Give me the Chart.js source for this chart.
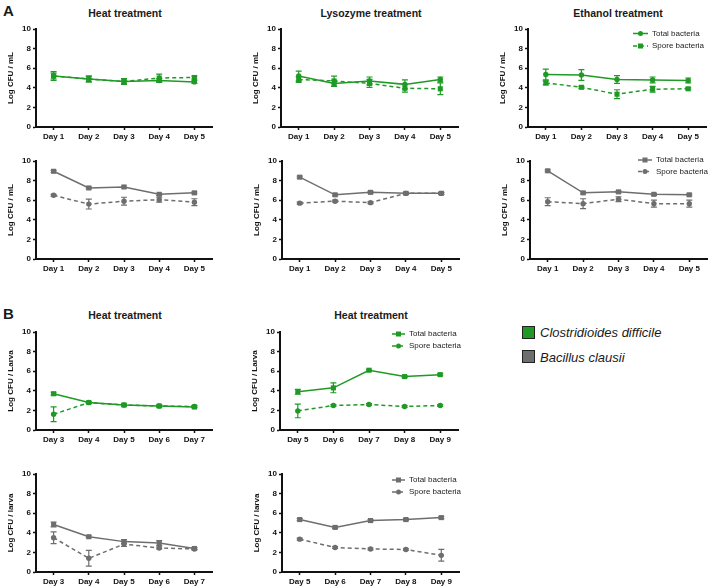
<!DOCTYPE html>
<html>
<head>
<meta charset="utf-8">
<script src="https://cdn.jsdelivr.net/npm/chart.js@4/dist/chart.umd.min.js"></script>
<style>
  body { margin: 0; width: 711px; height: 588px; position: relative; background: #fff; overflow: hidden;
         font-family: "Liberation Sans", Arial, sans-serif; color: #1a1a1a; }
  canvas { position: absolute; }
  .title { position: absolute; font-weight: bold; font-size: 10.5px; line-height: 1; white-space: nowrap;
           transform: translate(-50%, -50%); }
  .tag { position: absolute; font-weight: bold; font-size: 15px; line-height: 1; }
  .key { position: absolute; font-style: italic; font-size: 13px; line-height: 1; white-space: nowrap;
         transform: translateY(-50%); }
  .sw { position: absolute; width: 11px; height: 11px; border: 1px solid #222; }
</style>
</head>
<body>

<div class="tag" style="left:3px; top:3px;">A</div>
<div class="tag" style="left:3px; top:306px;">B</div>

<div class="title" style="left:125px; top:12.5px;">Heat treatment</div>
<div class="title" style="left:371px; top:12.5px;">Lysozyme treatment</div>
<div class="title" style="left:618px; top:12.5px;">Ethanol treatment</div>
<div class="title" style="left:125px; top:315px;">Heat treatment</div>
<div class="title" style="left:371px; top:315px;">Heat treatment</div>

<div class="sw" style="left:522px; top:326px; background:#1f9a25;"></div>
<div class="key" style="left:540px; top:332px;">Clostridioides difficile</div>
<div class="sw" style="left:522px; top:350px; background:#6e6e6e;"></div>
<div class="key" style="left:540px; top:357px;">Bacillus clausii</div>

<canvas id="a1"></canvas>
<canvas id="a2"></canvas>
<canvas id="a3"></canvas>
<canvas id="a4"></canvas>
<canvas id="a5"></canvas>
<canvas id="a6"></canvas>
<canvas id="b1"></canvas>
<canvas id="b2"></canvas>
<canvas id="b3"></canvas>
<canvas id="b4"></canvas>

<script>
// categories
const daysA = ["Day 1", "Day 2", "Day 3", "Day 4", "Day 5"];
const daysB1 = ["Day 3", "Day 4", "Day 5", "Day 6", "Day 7"];
const daysB2 = ["Day 5", "Day 6", "Day 7", "Day 8", "Day 9"];
const yTicks = [0, 2, 4, 6, 8, 10];

// A - C. difficile, Log CFU / mL
const heatTotalCd = [5.2, 4.9, 4.65, 4.75, 4.6];
const heatTotalCdErr = [0.45, 0.3, 0.25, 0.2, 0.15];
const heatSporeCd = [5.2, 4.9, 4.65, 5.0, 5.05];
const heatSporeCdErr = [0.3, 0.3, 0.3, 0.4, 0.15];

const lysoTotalCd = [5.2, 4.45, 4.7, 4.35, 4.85];
const lysoTotalCdErr = [0.5, 0.3, 0.4, 0.45, 0.25];
const lysoSporeCd = [4.85, 4.7, 4.45, 3.95, 3.9];
const lysoSporeCdErr = [0.3, 0.5, 0.4, 0.4, 0.6];

const ethTotalCd = [5.35, 5.3, 4.85, 4.8, 4.75];
const ethTotalCdErr = [0.55, 0.55, 0.4, 0.3, 0.25];
const ethSporeCd = [4.5, 4.05, 3.35, 3.85, 3.9];
const ethSporeCdErr = [0.2, 0.1, 0.45, 0.3, 0.1];

// A - B. clausii, Log CFU / mL
const heatTotalBc = [8.95, 7.25, 7.35, 6.6, 6.75];
const heatTotalBcErr = [0.1, 0.1, 0.1, 0.1, 0.1];
const heatSporeBc = [6.5, 5.6, 5.9, 6.05, 5.8];
const heatSporeBcErr = [0.1, 0.5, 0.4, 0.25, 0.35];

const lysoTotalBc = [8.35, 6.55, 6.8, 6.7, 6.7];
const lysoTotalBcErr = [0.1, 0.1, 0.1, 0.1, 0.1];
const lysoSporeBc = [5.7, 5.9, 5.75, 6.7, 6.7];
const lysoSporeBcErr = [0.1, 0.1, 0.1, 0.1, 0.1];

const ethTotalBc = [9.0, 6.75, 6.85, 6.6, 6.55];
const ethTotalBcErr = [0.1, 0.1, 0.1, 0.1, 0.1];
const ethSporeBc = [5.85, 5.65, 6.1, 5.65, 5.65];
const ethSporeBcErr = [0.4, 0.5, 0.25, 0.35, 0.35];

// B - Log CFU / larva
const larvaTotalCd1 = [3.7, 2.8, 2.55, 2.45, 2.35];
const larvaTotalCd1Err = [0.15, 0.05, 0.1, 0.1, 0.1];
const larvaSporeCd1 = [1.6, 2.8, 2.55, 2.45, 2.4];
const larvaSporeCd1Err = [0.75, 0.05, 0.1, 0.1, 0.1];

const larvaTotalCd2 = [3.9, 4.3, 6.1, 5.45, 5.65];
const larvaTotalCd2Err = [0.25, 0.5, 0.1, 0.1, 0.1];
const larvaSporeCd2 = [1.95, 2.5, 2.6, 2.4, 2.5];
const larvaSporeCd2Err = [0.7, 0.1, 0.1, 0.1, 0.1];

const larvaTotalBc1 = [4.85, 3.6, 3.1, 2.95, 2.4];
const larvaTotalBc1Err = [0.25, 0.1, 0.2, 0.25, 0.1];
const larvaSporeBc1 = [3.5, 1.4, 2.85, 2.45, 2.35];
const larvaSporeBc1Err = [0.6, 0.8, 0.25, 0.1, 0.1];

const larvaTotalBc2 = [5.35, 4.55, 5.25, 5.35, 5.55];
const larvaTotalBc2Err = [0.1, 0.1, 0.1, 0.1, 0.1];
const larvaSporeBc2 = [3.35, 2.5, 2.35, 2.3, 1.7];
const larvaSporeBc2Err = [0.1, 0.1, 0.1, 0.1, 0.6];

const green = "#1f9a25";
const grey = "#6e6e6e";

// vertical error bars with caps, drawn through the y scale
const errorBars = {
    id: "errorBars",
    afterDatasetsDraw(chart) {
        const ctx = chart.ctx;
        const ys = chart.scales.y;
        chart.data.datasets.forEach((ds, i) => {
            const meta = chart.getDatasetMeta(i);
            (ds.errors || []).forEach((e, j) => {
                if (!e) return;
                const x = meta.data[j].x;
                const top = ys.getPixelForValue(ds.data[j] + e);
                const bot = ys.getPixelForValue(ds.data[j] - e);
                ctx.save();
                ctx.strokeStyle = ds.borderColor;
                ctx.lineWidth = 1.2;
                ctx.beginPath();
                ctx.moveTo(x, top); ctx.lineTo(x, bot);
                ctx.moveTo(x - 3, top); ctx.lineTo(x + 3, top);
                ctx.moveTo(x - 3, bot); ctx.lineTo(x + 3, bot);
                ctx.stroke();
                ctx.restore();
            });
        });
    }
};

// small "Total / Spore" key inside the plot
const miniLegend = {
    id: "miniLegend",
    afterDraw(chart, args, opts) {
        if (opts.x == null) return;
        const ctx = chart.ctx;
        chart.data.datasets.forEach((ds, i) => {
            const y = opts.y + i * opts.gap;
            ctx.save();
            ctx.strokeStyle = ds.borderColor;
            ctx.fillStyle = ds.borderColor;
            ctx.lineWidth = 1.5;
            ctx.setLineDash(ds.borderDash || []);
            ctx.beginPath();
            ctx.moveTo(opts.x, y);
            ctx.lineTo(opts.x + opts.len, y);
            ctx.stroke();
            ctx.setLineDash([]);
            const cx = opts.x + opts.len / 2;
            if (ds.pointStyle === "rect") {
                ctx.fillRect(cx - 2.5, y - 2.5, 5, 5);
            } else {
                ctx.beginPath();
                ctx.arc(cx, y, 2.5, 0, Math.PI * 2);
                ctx.fill();
            }
            ctx.fillStyle = "#222";
            ctx.font = '8px "Liberation Sans", Arial, sans-serif';
            ctx.textBaseline = "middle";
            ctx.fillText(ds.label, opts.x + opts.len + 4, y);
            ctx.restore();
        });
    }
};

function series(label, data, errors, color, style, dashed) {
    return {
        label: label,
        data: data,
        errors: errors,
        borderColor: color,
        backgroundColor: color,
        borderWidth: 1.5,
        borderDash: dashed ? [4, 3] : [],
        pointStyle: style,
        pointRadius: style === "rect" ? 3.6 : 2.7,
        pointBorderWidth: 0,
        tension: 0
    };
}

// box: y axis x, plot right edge, pixel of 10, pixel of 0 (page coords)
function panel(id, box, labels, yTitle, datasets, legend) {
    const left = box.axisX - 36;
    const top = box.y10 - 8;
    const padRight = Math.min(14, 711 - box.right);
    const canvas = document.getElementById(id);
    canvas.style.left = left + "px";
    canvas.style.top = top + "px";
    canvas.width = box.right - left + padRight;
    canvas.height = box.y0 - top + 22;

    const tickFont = { family: '"Liberation Sans", Arial, sans-serif', size: 8, weight: "bold" };

    new Chart(canvas, {
        type: "line",
        data: { labels: labels, datasets: datasets },
        options: {
            responsive: false,
            animation: false,
            devicePixelRatio: 1,
            layout: { padding: { top: 8, right: padRight, bottom: 2, left: 0 } },
            plugins: {
                legend: { display: false },
                tooltip: { enabled: false },
                miniLegend: legend ? { x: legend.x - left, y: legend.y - top, gap: legend.gap, len: legend.len } : {}
            },
            scales: {
                x: {
                    offset: true,
                    grid: { display: true, drawOnChartArea: false, offset: false, tickLength: 3, color: "#111", tickWidth: 1.5 },
                    border: { color: "#111", width: 2 },
                    ticks: { color: "#111", font: tickFont, padding: 2, maxRotation: 0 },
                    afterFit: s => { s.height = 20; }
                },
                y: {
                    min: 0,
                    max: 10,
                    afterBuildTicks: s => { s.ticks = yTicks.map(v => ({ value: v })); },
                    grid: { display: true, drawOnChartArea: false, tickLength: 3, color: "#111", tickWidth: 1.5 },
                    border: { color: "#111", width: 2 },
                    ticks: { color: "#111", font: tickFont, padding: 2 },
                    title: { display: true, text: yTitle, color: "#111", font: tickFont, padding: { top: 6, bottom: 0 } },
                    afterFit: s => { s.width = 36; }
                }
            }
        },
        plugins: [errorBars, miniLegend]
    });
}

const mL = "Log CFU / mL";

panel("a1", { axisX: 36, right: 212, y10: 29, y0: 127 }, daysA, mL, [
    series("Total bacteria", heatTotalCd, heatTotalCdErr, green, "circle", false),
    series("Spore bacteria", heatSporeCd, heatSporeCdErr, green, "rect", true)
]);
panel("a2", { axisX: 281, right: 458, y10: 29, y0: 127 }, daysA, mL, [
    series("Total bacteria", lysoTotalCd, lysoTotalCdErr, green, "circle", false),
    series("Spore bacteria", lysoSporeCd, lysoSporeCdErr, green, "rect", true)
]);
panel("a3", { axisX: 528, right: 706, y10: 29, y0: 127 }, daysA, mL, [
    series("Total bacteria", ethTotalCd, ethTotalCdErr, green, "circle", false),
    series("Spore bacteria", ethSporeCd, ethSporeCdErr, green, "rect", true)
], { x: 633, y: 33.5, gap: 12.5, len: 15 });

panel("a4", { axisX: 36, right: 212, y10: 161, y0: 259 }, daysA, mL, [
    series("Total bacteria", heatTotalBc, heatTotalBcErr, grey, "rect", false),
    series("Spore bacteria", heatSporeBc, heatSporeBcErr, grey, "circle", true)
]);
panel("a5", { axisX: 282, right: 459, y10: 161, y0: 259 }, daysA, mL, [
    series("Total bacteria", lysoTotalBc, lysoTotalBcErr, grey, "rect", false),
    series("Spore bacteria", lysoSporeBc, lysoSporeBcErr, grey, "circle", true)
]);
panel("a6", { axisX: 530, right: 707, y10: 161, y0: 259 }, daysA, mL, [
    series("Total bacteria", ethTotalBc, ethTotalBcErr, grey, "rect", false),
    series("Spore bacteria", ethSporeBc, ethSporeBcErr, grey, "circle", true)
], { x: 638, y: 160, gap: 11.5, len: 14 });

panel("b1", { axisX: 36, right: 212, y10: 332, y0: 430 }, daysB1, "Log CFU / Larva", [
    series("Total bacteria", larvaTotalCd1, larvaTotalCd1Err, green, "rect", false),
    series("Spore bacteria", larvaSporeCd1, larvaSporeCd1Err, green, "circle", true)
]);
panel("b2", { axisX: 280, right: 458, y10: 332, y0: 430 }, daysB2, "Log CFU / Larva", [
    series("Total bacteria", larvaTotalCd2, larvaTotalCd2Err, green, "rect", false),
    series("Spore bacteria", larvaSporeCd2, larvaSporeCd2Err, green, "circle", true)
], { x: 392, y: 334, gap: 12, len: 13 });

panel("b3", { axisX: 36, right: 212, y10: 474, y0: 572 }, daysB1, "Log CFU / larva", [
    series("Total bacteria", larvaTotalBc1, larvaTotalBc1Err, grey, "rect", false),
    series("Spore bacteria", larvaSporeBc1, larvaSporeBc1Err, grey, "circle", true)
]);
panel("b4", { axisX: 282, right: 459, y10: 474, y0: 572 }, daysB2, "Log CFU / larva", [
    series("Total bacteria", larvaTotalBc2, larvaTotalBc2Err, grey, "rect", false),
    series("Spore bacteria", larvaSporeBc2, larvaSporeBc2Err, grey, "circle", true)
], { x: 392, y: 480, gap: 12, len: 13 });
</script>
</body>
</html>
